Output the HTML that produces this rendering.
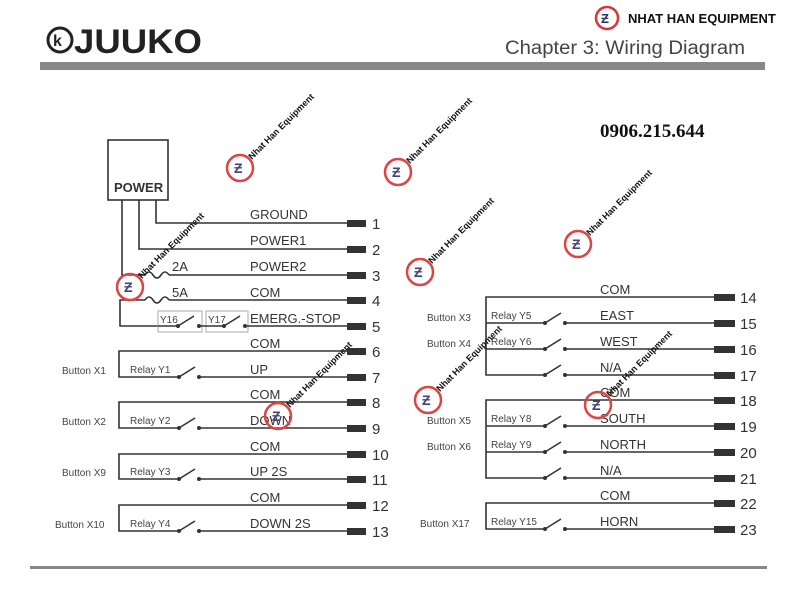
<!DOCTYPE html>
<html><head><meta charset="utf-8"><style>
html,body{margin:0;padding:0;background:#fff;}
svg{display:block;font-family:"Liberation Sans",sans-serif;}
.l{fill:#333;font-size:13px;}
.s{fill:#444;font-size:10px;}
.n{fill:#333;font-size:15px;}
.w{fill:#111;font-size:9px;font-weight:bold;}
</style></head><body>
<svg width="800" height="600" viewBox="0 0 800 600" xmlns="http://www.w3.org/2000/svg">
<rect width="800" height="600" fill="#fff"/>
<!-- header -->
<circle cx="60" cy="40" r="12" fill="none" stroke="#222" stroke-width="3"/>
<text x="53" y="46" font-size="16" font-weight="bold" fill="#222">k</text>
<text x="74" y="53" font-size="34" fill="#222" font-weight="bold" textLength="128" lengthAdjust="spacingAndGlyphs">JUUKO</text>
<text x="505" y="54" font-size="19" fill="#444" textLength="240" lengthAdjust="spacingAndGlyphs">Chapter 3:  Wiring Diagram</text>
<rect x="40" y="62" width="725" height="8" fill="#888"/>
<rect x="30" y="566" width="737" height="3" fill="#888"/>
<!-- top right brand -->
<circle cx="607" cy="18" r="11" fill="none" stroke="#d33" stroke-width="2.5"/>
<text x="601" y="23" font-size="13" font-weight="bold" fill="#336">Ƶ</text>
<text x="628" y="23" font-size="13" font-weight="bold" fill="#111">NHAT HAN EQUIPMENT</text>
<text x="600" y="137" font-family="Liberation Serif,serif" font-size="19" font-weight="bold" fill="#111">0906.215.644</text>

<g stroke="#333" stroke-width="1.6" fill="none">
<rect x="108" y="140" width="60" height="60"/>
<polyline points="156,200 156,223 348,223"/>
<polyline points="139,200 139,249 348,249"/>
<polyline points="122,200 122,275 145,275"/>
<path d="M145,275 q4,-6 8,0 t8,0 t8,0"/>
<line x1="169" y1="275" x2="348" y2="275"/>
<polyline points="145,300 120,300 120,326 158,326"/>
<path d="M145,300 q4,-6 8,0 t8,0 t8,0"/>
<line x1="169" y1="300" x2="348" y2="300"/>
<rect x="158" y="311" width="44" height="21" stroke="#aaa" stroke-width="1"/>
<rect x="206" y="311" width="42" height="21" stroke="#aaa" stroke-width="1"/>
<line x1="158" y1="326" x2="178" y2="326"/>
<line x1="178" y1="326" x2="194" y2="316"/>
<line x1="199" y1="326" x2="224" y2="326"/>
<line x1="224" y1="326" x2="240" y2="316"/>
<line x1="245" y1="326" x2="348" y2="326"/>
<polyline points="348,351 119,351 119,377 179,377"/><line x1="179" y1="377" x2="195" y2="367"/><line x1="199" y1="377" x2="348" y2="377"/>
<polyline points="348,402 119,402 119,428 179,428"/><line x1="179" y1="428" x2="195" y2="418"/><line x1="199" y1="428" x2="348" y2="428"/>
<polyline points="348,454 119,454 119,479 179,479"/><line x1="179" y1="479" x2="195" y2="469"/><line x1="199" y1="479" x2="348" y2="479"/>
<polyline points="348,505 119,505 119,531 179,531"/><line x1="179" y1="531" x2="195" y2="521"/><line x1="199" y1="531" x2="348" y2="531"/>
<polyline points="715,297 486,297 486,375 545,375"/>
<line x1="486" y1="323" x2="545" y2="323"/><line x1="486" y1="349" x2="545" y2="349"/>
<line x1="545" y1="323" x2="561" y2="313"/><line x1="565" y1="323" x2="715" y2="323"/>
<line x1="545" y1="349" x2="561" y2="339"/><line x1="565" y1="349" x2="715" y2="349"/>
<line x1="545" y1="375" x2="561" y2="365"/><line x1="565" y1="375" x2="715" y2="375"/>
<polyline points="715,400 486,400 486,478 545,478"/>
<line x1="486" y1="426" x2="545" y2="426"/><line x1="486" y1="452" x2="545" y2="452"/>
<line x1="545" y1="426" x2="561" y2="416"/><line x1="565" y1="426" x2="715" y2="426"/>
<line x1="545" y1="452" x2="561" y2="442"/><line x1="565" y1="452" x2="715" y2="452"/>
<line x1="545" y1="478" x2="561" y2="468"/><line x1="565" y1="478" x2="715" y2="478"/>
<polyline points="715,503 486,503 486,529 545,529"/>
<line x1="545" y1="529" x2="561" y2="519"/><line x1="565" y1="529" x2="715" y2="529"/>
</g>
<g fill="#333">
<circle cx="178" cy="326" r="2"/><circle cx="199" cy="326" r="2"/><circle cx="224" cy="326" r="2"/><circle cx="245" cy="326" r="2"/>
<circle cx="179" cy="377" r="2"/><circle cx="199" cy="377" r="2"/>
<circle cx="179" cy="428" r="2"/><circle cx="199" cy="428" r="2"/>
<circle cx="179" cy="479" r="2"/><circle cx="199" cy="479" r="2"/>
<circle cx="179" cy="531" r="2"/><circle cx="199" cy="531" r="2"/>
<circle cx="545" cy="323" r="2"/><circle cx="565" cy="323" r="2"/>
<circle cx="545" cy="349" r="2"/><circle cx="565" cy="349" r="2"/>
<circle cx="545" cy="375" r="2"/><circle cx="565" cy="375" r="2"/>
<circle cx="545" cy="426" r="2"/><circle cx="565" cy="426" r="2"/>
<circle cx="545" cy="452" r="2"/><circle cx="565" cy="452" r="2"/>
<circle cx="545" cy="478" r="2"/><circle cx="565" cy="478" r="2"/>
<circle cx="545" cy="529" r="2"/><circle cx="565" cy="529" r="2"/>
<rect x="347" y="220" width="19" height="7"/><rect x="347" y="246" width="19" height="7"/><rect x="347" y="272" width="19" height="7"/>
<rect x="347" y="297" width="19" height="7"/><rect x="347" y="323" width="19" height="7"/><rect x="347" y="348" width="19" height="7"/>
<rect x="347" y="374" width="19" height="7"/><rect x="347" y="399" width="19" height="7"/><rect x="347" y="425" width="19" height="7"/>
<rect x="347" y="451" width="19" height="7"/><rect x="347" y="476" width="19" height="7"/><rect x="347" y="502" width="19" height="7"/>
<rect x="347" y="528" width="19" height="7"/>
<rect x="714" y="294" width="21" height="7"/><rect x="714" y="320" width="21" height="7"/><rect x="714" y="346" width="21" height="7"/>
<rect x="714" y="372" width="21" height="7"/><rect x="714" y="397" width="21" height="7"/><rect x="714" y="423" width="21" height="7"/>
<rect x="714" y="449" width="21" height="7"/><rect x="714" y="475" width="21" height="7"/><rect x="714" y="500" width="21" height="7"/>
<rect x="714" y="526" width="21" height="7"/>
</g>
<text x="114" y="192" font-size="13" font-weight="bold" fill="#333">POWER</text>
<g class="l">
<text x="250" y="219" class="l">GROUND</text><text x="250" y="245" class="l">POWER1</text><text x="250" y="271" class="l">POWER2</text>
<text x="172" y="271" class="l">2A</text><text x="172" y="297" class="l">5A</text>
<text x="250" y="297" class="l">COM</text><text x="250" y="323" class="l">EMERG.-STOP</text>
<text x="250" y="348" class="l">COM</text><text x="250" y="374" class="l">UP</text>
<text x="250" y="399" class="l">COM</text><text x="250" y="425" class="l">DOWN</text>
<text x="250" y="451" class="l">COM</text><text x="250" y="476" class="l">UP 2S</text>
<text x="250" y="502" class="l">COM</text><text x="250" y="528" class="l">DOWN 2S</text>
<text x="600" y="294" class="l">COM</text><text x="600" y="320" class="l">EAST</text><text x="600" y="346" class="l">WEST</text>
<text x="600" y="372" class="l">N/A</text><text x="600" y="397" class="l">COM</text><text x="600" y="423" class="l">SOUTH</text>
<text x="600" y="449" class="l">NORTH</text><text x="600" y="475" class="l">N/A</text><text x="600" y="500" class="l">COM</text>
<text x="600" y="526" class="l">HORN</text>
</g>
<g class="s">
<text x="160" y="323" class="s">Y16</text><text x="208" y="323" class="s">Y17</text>
<text x="62" y="374" class="s">Button X1</text><text x="130" y="373" class="s">Relay Y1</text>
<text x="62" y="425" class="s">Button X2</text><text x="130" y="424" class="s">Relay Y2</text>
<text x="62" y="476" class="s">Button X9</text><text x="130" y="475" class="s">Relay Y3</text>
<text x="55" y="528" class="s">Button X10</text><text x="130" y="527" class="s">Relay Y4</text>
<text x="427" y="321" class="s">Button X3</text><text x="491" y="319" class="s">Relay Y5</text>
<text x="427" y="347" class="s">Button X4</text><text x="491" y="345" class="s">Relay Y6</text>
<text x="427" y="424" class="s">Button X5</text><text x="491" y="422" class="s">Relay Y8</text>
<text x="427" y="450" class="s">Button X6</text><text x="491" y="448" class="s">Relay Y9</text>
<text x="420" y="527" class="s">Button X17</text><text x="491" y="525" class="s">Relay Y15</text>
</g>
<g class="n">
<text x="372" y="229" class="n">1</text><text x="372" y="255" class="n">2</text><text x="372" y="281" class="n">3</text>
<text x="372" y="306" class="n">4</text><text x="372" y="332" class="n">5</text><text x="372" y="357" class="n">6</text>
<text x="372" y="383" class="n">7</text><text x="372" y="408" class="n">8</text><text x="372" y="434" class="n">9</text>
<text x="372" y="460" class="n">10</text><text x="372" y="485" class="n">11</text><text x="372" y="511" class="n">12</text>
<text x="372" y="537" class="n">13</text>
<text x="740" y="303" class="n">14</text><text x="740" y="329" class="n">15</text><text x="740" y="355" class="n">16</text>
<text x="740" y="381" class="n">17</text><text x="740" y="406" class="n">18</text><text x="740" y="432" class="n">19</text>
<text x="740" y="458" class="n">20</text><text x="740" y="484" class="n">21</text><text x="740" y="509" class="n">22</text>
<text x="740" y="535" class="n">23</text>
</g>
<g>
<g transform="translate(240,168)"><circle r="13" fill="none" stroke="#d44" stroke-width="2.5"/><text x="-6" y="5" font-size="14" font-weight="bold" fill="#447">Ƶ</text><text x="12" y="-8" class="w" transform="rotate(-45 12 -8)">Nhat Han Equipment</text></g>
<g transform="translate(398,172)"><circle r="13" fill="none" stroke="#d44" stroke-width="2.5"/><text x="-6" y="5" font-size="14" font-weight="bold" fill="#447">Ƶ</text><text x="12" y="-8" class="w" transform="rotate(-45 12 -8)">Nhat Han Equipment</text></g>
<g transform="translate(130,287)"><circle r="13" fill="none" stroke="#d44" stroke-width="2.5"/><text x="-6" y="5" font-size="14" font-weight="bold" fill="#447">Ƶ</text><text x="12" y="-8" class="w" transform="rotate(-45 12 -8)">Nhat Han Equipment</text></g>
<g transform="translate(420,272)"><circle r="13" fill="none" stroke="#d44" stroke-width="2.5"/><text x="-6" y="5" font-size="14" font-weight="bold" fill="#447">Ƶ</text><text x="12" y="-8" class="w" transform="rotate(-45 12 -8)">Nhat Han Equipment</text></g>
<g transform="translate(578,244)"><circle r="13" fill="none" stroke="#d44" stroke-width="2.5"/><text x="-6" y="5" font-size="14" font-weight="bold" fill="#447">Ƶ</text><text x="12" y="-8" class="w" transform="rotate(-45 12 -8)">Nhat Han Equipment</text></g>
<g transform="translate(428,400)"><circle r="13" fill="none" stroke="#d44" stroke-width="2.5"/><text x="-6" y="5" font-size="14" font-weight="bold" fill="#447">Ƶ</text><text x="12" y="-8" class="w" transform="rotate(-45 12 -8)">Nhat Han Equipment</text></g>
<g transform="translate(598,405)"><circle r="13" fill="none" stroke="#d44" stroke-width="2.5"/><text x="-6" y="5" font-size="14" font-weight="bold" fill="#447">Ƶ</text><text x="12" y="-8" class="w" transform="rotate(-45 12 -8)">Nhat Han Equipment</text></g>
<g transform="translate(278,416)"><circle r="13" fill="none" stroke="#d44" stroke-width="2.5"/><text x="-6" y="5" font-size="14" font-weight="bold" fill="#447">Ƶ</text><text x="12" y="-8" class="w" transform="rotate(-45 12 -8)">Nhat Han Equipment</text></g>
</g>
</svg>
</body></html>
